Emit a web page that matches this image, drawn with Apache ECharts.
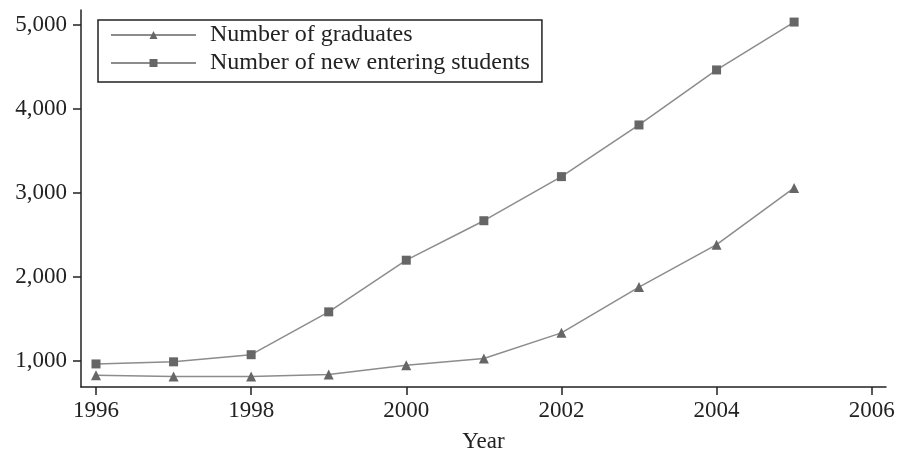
<!DOCTYPE html>
<html>
<head>
<meta charset="utf-8">
<script src="https://cdn.jsdelivr.net/npm/echarts@6/dist/echarts.min.js"></script>
<style>
html,body{margin:0;padding:0;background:#fff;}
#chart{width:900px;height:458px;}
</style>
</head>
<body>
<div id="chart"></div>
<script>
const years = [1996, 1997, 1998, 1999, 2000, 2001, 2002, 2003, 2004, 2005];
const graduates = [830, 815, 815, 840, 950, 1030, 1335, 1880, 2385, 3060];
const newStudents = [965, 990, 1075, 1585, 2200, 2670, 3195, 3810, 4465, 5035];
const seriesNames = ['Number of graduates', 'Number of new entering students'];
const yTicks = [1000, 2000, 3000, 4000, 5000];
const xTicks = [1996, 1998, 2000, 2002, 2004, 2006];

const FONT = '"Liberation Serif", "DejaVu Serif", serif';
const AXIS = '#222';
const LINE = '#8c8c8c';
const MARK = '#666';

const chart = echarts.init(document.getElementById('chart'));
chart.setOption({
  backgroundColor: '#fff',
  animation: false,
  textStyle: { fontFamily: FONT },
  legend: {
    orient: 'vertical',
    left: 98, top: 20,
    padding: [3, 12, 7, 12],
    borderColor: AXIS, borderWidth: 1.5,
    itemWidth: 85, itemHeight: 10, itemGap: 4,
    textStyle: { fontFamily: FONT, fontSize: 24, color: '#222', padding: [0, 0, 0, 9] },
    data: seriesNames
  },
  grid: [
    { left: 96, right: 28.3, top: 25, bottom: 97 },
    { left: 81, right: 14, top: 10, bottom: 71 }
  ],
  xAxis: [
    {
      type: 'value', gridIndex: 0, min: xTicks[0], max: xTicks[xTicks.length - 1], interval: 2,
      offset: 26,
      axisLine: { show: false },
      axisTick: { show: true, length: 8, lineStyle: { color: AXIS, width: 1.5 } },
      axisLabel: { fontFamily: FONT, fontSize: 23, color: '#222', margin: 12, formatter: v => String(v) },
      splitLine: { show: false }
    },
    {
      type: 'value', gridIndex: 1, min: 0, max: 1,
      name: 'Year', nameLocation: 'middle', nameGap: 43,
      nameTextStyle: { fontFamily: FONT, fontSize: 23, color: '#222' },
      axisLine: { show: true, lineStyle: { color: AXIS, width: 1.5 } },
      axisTick: { show: false }, axisLabel: { show: false }, splitLine: { show: false }
    }
  ],
  yAxis: [
    {
      type: 'value', gridIndex: 0, min: yTicks[0], max: yTicks[yTicks.length - 1], interval: 1000,
      offset: 15,
      axisLine: { show: false },
      axisTick: { show: true, length: 8, lineStyle: { color: AXIS, width: 1.5 } },
      axisLabel: { fontFamily: FONT, fontSize: 23, color: '#222', margin: 14,
        formatter: v => v.toLocaleString('en-US') },
      splitLine: { show: false }
    },
    {
      type: 'value', gridIndex: 1, min: 0, max: 1,
      axisLine: { show: true, lineStyle: { color: AXIS, width: 1.5 } },
      axisTick: { show: false }, axisLabel: { show: false }, splitLine: { show: false }
    }
  ],
  series: [
    {
      name: seriesNames[0], type: 'line', xAxisIndex: 0, yAxisIndex: 0, clip: false,
      data: years.map((y, i) => [y, graduates[i]]),
      symbol: 'triangle', symbolSize: 10,
      lineStyle: { color: LINE, width: 1.5 },
      itemStyle: { color: MARK }
    },
    {
      name: seriesNames[1], type: 'line', xAxisIndex: 0, yAxisIndex: 0, clip: false,
      data: years.map((y, i) => [y, newStudents[i]]),
      symbol: 'rect', symbolSize: 9,
      lineStyle: { color: LINE, width: 1.5 },
      itemStyle: { color: MARK }
    }
  ]
});
</script>
</body>
</html>
